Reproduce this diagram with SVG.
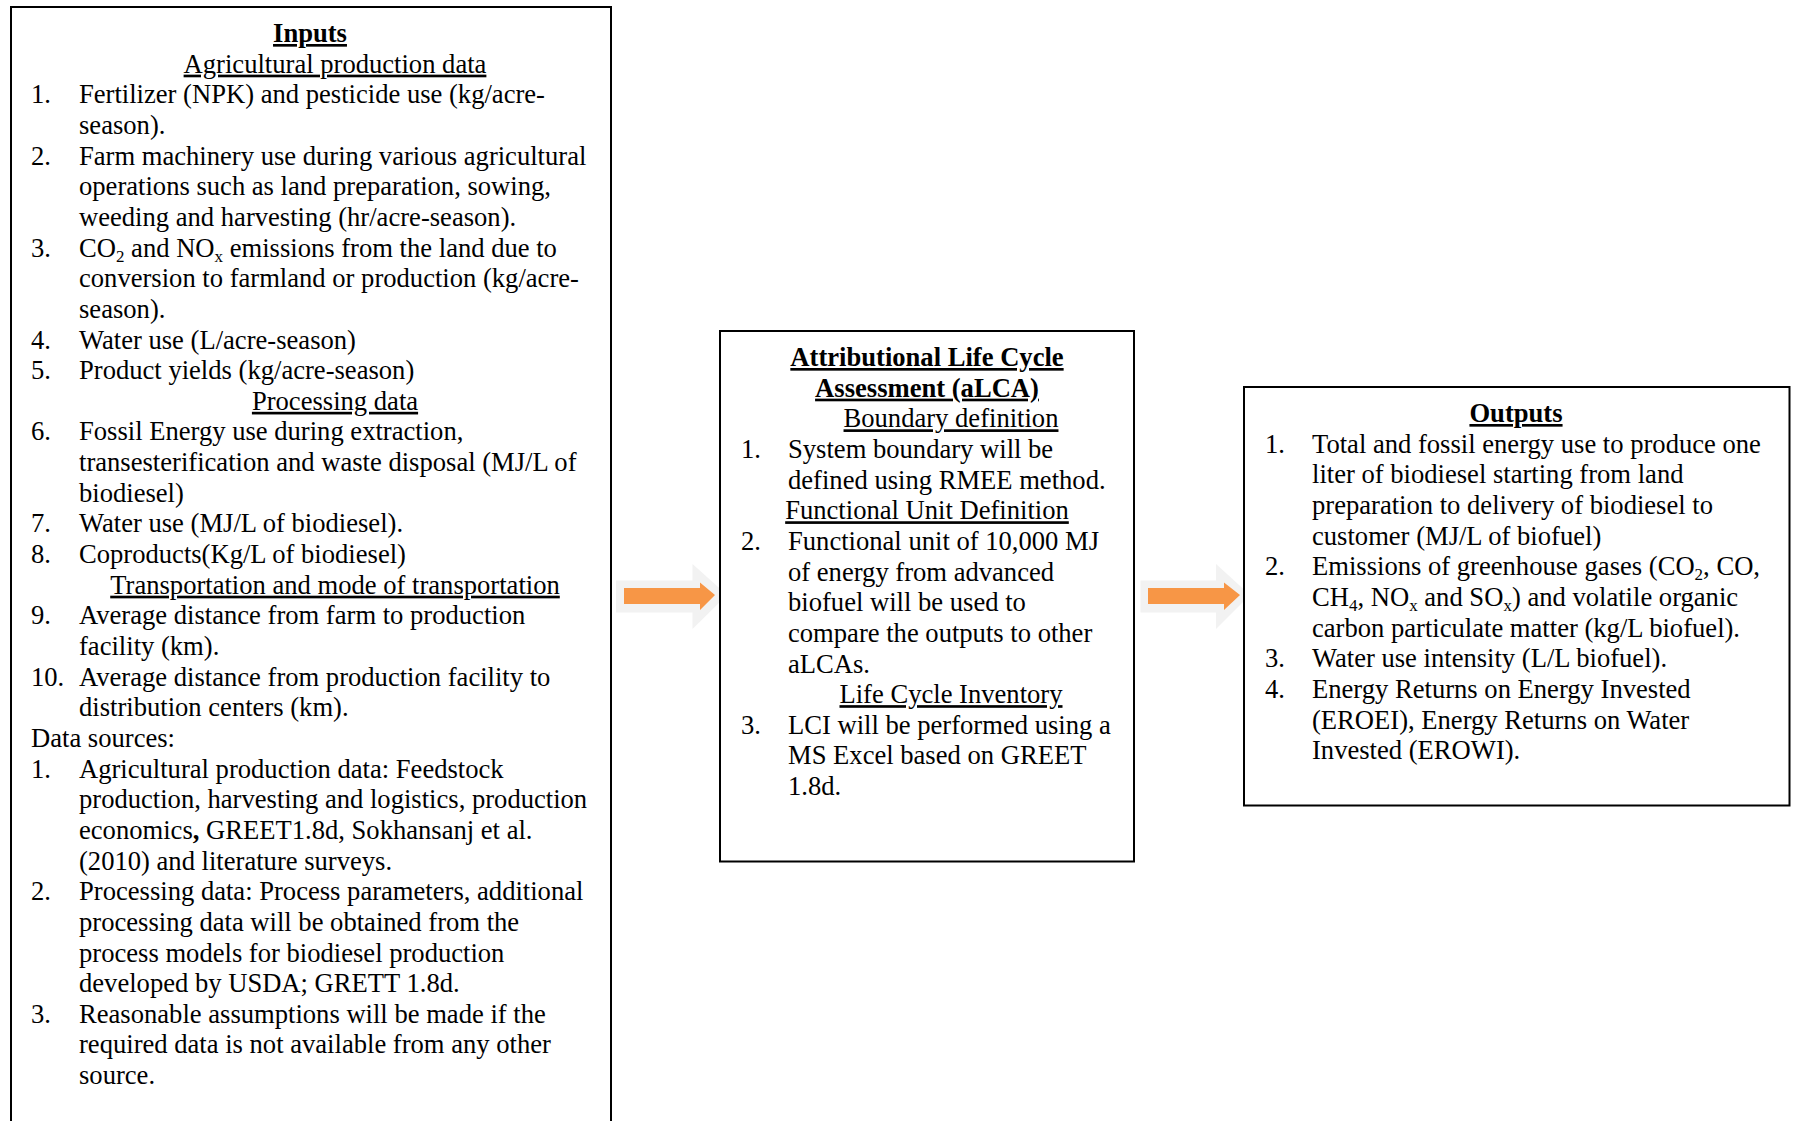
<svg xmlns="http://www.w3.org/2000/svg" width="1794" height="1121" viewBox="0 0 1794 1121">
<style>
text{font-family:"Liberation Serif","Times New Roman",serif;font-size:26.6px;fill:#000}
.b{font-weight:bold}
.u{text-decoration:underline}
.c{text-anchor:middle}
.s{font-size:17px}
.box{fill:#fff;stroke:#000;stroke-width:2}
.sh{fill:#f2f2f2}
.ar{fill:#f79646}
</style>
<rect width="1794" height="1121" fill="#fff"/>
<g id="connectors">
<polygon class="sh" points="616,580.5 692.5,580.5 692.5,564 727,595 692.5,629 692.5,612.5 616,612.5"/>
<polygon class="ar" points="624,588 700,588 700,582.5 715,595 700,610 700,604 624,604"/>
<polygon class="sh" points="1140.5,580.5 1216,580.5 1216,564 1250,595 1216,629 1216,612.5 1140.5,612.5"/>
<polygon class="ar" points="1148,588 1224,588 1224,582.5 1240,595 1224,610 1224,604 1148,604"/>
</g>
<g id="inputs">
<rect class="box" x="11" y="7" width="600" height="1130"/>
<text class="b u c" x="310" y="42">Inputs</text>
<text class="u c" x="335" y="72.65">Agricultural production data</text>
<text x="31" y="103.3">1.</text><text x="79" y="103.3">Fertilizer (NPK) and pesticide use (kg/acre-</text>
<text x="79" y="133.95">season).</text>
<text x="31" y="164.6">2.</text><text x="79" y="164.6">Farm machinery use during various agricultural</text>
<text x="79" y="195.25">operations such as land preparation, sowing,</text>
<text x="79" y="225.9">weeding and harvesting (hr/acre-season).</text>
<text x="31" y="256.55">3.</text><text x="79" y="256.55">CO<tspan class="s" dy="5">2</tspan><tspan dy="-5"> and NO</tspan><tspan class="s" dy="5">x</tspan><tspan dy="-5"> emissions from the land due to</tspan></text>
<text x="79" y="287.2">conversion to farmland or production (kg/acre-</text>
<text x="79" y="317.85">season).</text>
<text x="31" y="348.5">4.</text><text x="79" y="348.5">Water use (L/acre-season)</text>
<text x="31" y="379.15">5.</text><text x="79" y="379.15">Product yields (kg/acre-season)</text>
<text class="u c" x="335" y="409.8">Processing data</text>
<text x="31" y="440.45">6.</text><text x="79" y="440.45">Fossil Energy use during extraction,</text>
<text x="79" y="471.1">transesterification and waste disposal (MJ/L of</text>
<text x="79" y="501.75">biodiesel)</text>
<text x="31" y="532.4">7.</text><text x="79" y="532.4">Water use (MJ/L of biodiesel).</text>
<text x="31" y="563.05">8.</text><text x="79" y="563.05">Coproducts(Kg/L of biodiesel)</text>
<text class="u c" x="335" y="593.7">Transportation and mode of transportation</text>
<text x="31" y="624.35">9.</text><text x="79" y="624.35">Average distance from farm to production</text>
<text x="79" y="655">facility (km).</text>
<text x="31" y="685.65">10.</text><text x="79" y="685.65">Average distance from production facility to</text>
<text x="79" y="716.3">distribution centers (km).</text>
<text x="31" y="746.95">Data sources:</text>
<text x="31" y="777.6">1.</text><text x="79" y="777.6">Agricultural production data: Feedstock</text>
<text x="79" y="808.25">production, harvesting and logistics, production</text>
<text x="79" y="838.9">economics<tspan class="b">,</tspan> GREET1.8d, Sokhansanj et al.</text>
<text x="79" y="869.55">(2010) and literature surveys.</text>
<text x="31" y="900.2">2.</text><text x="79" y="900.2">Processing data: Process parameters, additional</text>
<text x="79" y="930.85">processing data will be obtained from the</text>
<text x="79" y="961.5">process models for biodiesel production</text>
<text x="79" y="992.15">developed by USDA; GRETT 1.8d.</text>
<text x="31" y="1022.8">3.</text><text x="79" y="1022.8">Reasonable assumptions will be made if the</text>
<text x="79" y="1053.45">required data is not available from any other</text>
<text x="79" y="1084.1">source.</text>
</g>
<g id="alca">
<rect class="box" x="720" y="331" width="414" height="530.5"/>
<text class="b u c" x="927" y="366">Attributional Life Cycle</text>
<text class="b u c" x="927" y="396.65">Assessment (aLCA)</text>
<text class="u c" x="951" y="427.3">Boundary definition</text>
<text x="741" y="457.95">1.</text><text x="788" y="457.95">System boundary will be</text>
<text x="788" y="488.6">defined using RMEE method.</text>
<text class="u c" x="927" y="519.25">Functional Unit Definition</text>
<text x="741" y="549.9">2.</text><text x="788" y="549.9">Functional unit of 10,000 MJ</text>
<text x="788" y="580.55">of energy from advanced</text>
<text x="788" y="611.2">biofuel will be used to</text>
<text x="788" y="641.85">compare the outputs to other</text>
<text x="788" y="672.5">aLCAs.</text>
<text class="u c" x="951" y="703.15">Life Cycle Inventory</text>
<text x="741" y="733.8">3.</text><text x="788" y="733.8">LCI will be performed using a</text>
<text x="788" y="764.45">MS Excel based on GREET</text>
<text x="788" y="795.1">1.8d.</text>
</g>
<g id="outputs">
<rect class="box" x="1244" y="387" width="545.5" height="418.5"/>
<text class="b u c" x="1516" y="422">Outputs</text>
<text x="1265" y="452.65">1.</text><text x="1312" y="452.65">Total and fossil energy use to produce one</text>
<text x="1312" y="483.3">liter of biodiesel starting from land</text>
<text x="1312" y="513.95">preparation to delivery of biodiesel to</text>
<text x="1312" y="544.6">customer (MJ/L of biofuel)</text>
<text x="1265" y="575.25">2.</text><text x="1312" y="575.25">Emissions of greenhouse gases (CO<tspan class="s" dy="5">2</tspan><tspan dy="-5">, CO,</tspan></text>
<text x="1312" y="605.9">CH<tspan class="s" dy="5">4</tspan><tspan dy="-5">, NO</tspan><tspan class="s" dy="5">x</tspan><tspan dy="-5"> and SO</tspan><tspan class="s" dy="5">x</tspan><tspan dy="-5">) and volatile organic</tspan></text>
<text x="1312" y="636.55">carbon particulate matter (kg/L biofuel).</text>
<text x="1265" y="667.2">3.</text><text x="1312" y="667.2">Water use intensity (L/L biofuel).</text>
<text x="1265" y="697.85">4.</text><text x="1312" y="697.85">Energy Returns on Energy Invested</text>
<text x="1312" y="728.5">(EROEI), Energy Returns on Water</text>
<text x="1312" y="759.15">Invested (EROWI).</text>
</g>
</svg>
